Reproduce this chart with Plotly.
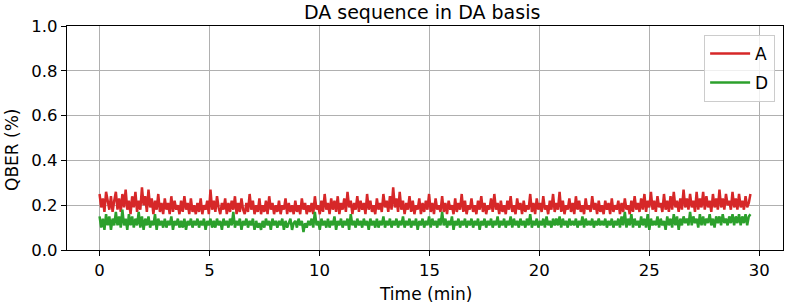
import plotly.graph_objects as go

sample_interval_min = 29.6 / 399

qber_a = [
    0.25,0.19,0.23,0.17,0.26,0.21,0.18,0.24,0.17,0.22,
    0.26,0.18,0.23,0.17,0.25,0.19,0.27,0.18,0.22,0.16,
    0.24,0.19,0.26,0.17,0.22,0.18,0.28,0.20,0.24,0.17,
    0.27,0.19,0.23,0.16,0.22,0.18,0.25,0.17,0.21,0.16,
    0.23,0.18,0.21,0.16,0.24,0.17,0.22,0.18,0.20,0.16,
    0.22,0.17,0.24,0.18,0.21,0.16,0.23,0.17,0.20,0.16,
    0.21,0.17,0.23,0.16,0.20,0.18,0.22,0.16,0.27,0.18,
    0.22,0.17,0.24,0.19,0.16,0.21,0.18,0.23,0.16,0.21,
    0.17,0.22,0.18,0.24,0.16,0.21,0.17,0.23,0.18,0.16,
    0.21,0.17,0.25,0.18,0.22,0.16,0.20,0.17,0.23,0.16,
    0.20,0.17,0.22,0.16,0.24,0.18,0.21,0.16,0.20,0.17,
    0.22,0.16,0.20,0.18,0.23,0.16,0.21,0.17,0.20,0.16,
    0.22,0.17,0.20,0.16,0.23,0.18,0.21,0.16,0.20,0.17,
    0.21,0.16,0.24,0.18,0.20,0.16,0.22,0.17,0.25,0.18,
    0.21,0.16,0.23,0.18,0.22,0.17,0.24,0.16,0.21,0.18,
    0.23,0.17,0.26,0.19,0.22,0.16,0.21,0.18,0.24,0.17,
    0.22,0.18,0.21,0.16,0.25,0.18,0.22,0.17,0.20,0.16,
    0.23,0.18,0.21,0.17,0.25,0.19,0.22,0.17,0.24,0.18,
    0.28,0.19,0.23,0.17,0.26,0.18,0.22,0.16,0.21,0.18,
    0.24,0.17,0.22,0.16,0.20,0.18,0.23,0.16,0.21,0.17,
    0.22,0.18,0.25,0.17,0.21,0.16,0.23,0.18,0.20,0.17,
    0.24,0.17,0.21,0.16,0.22,0.18,0.20,0.16,0.23,0.17,
    0.21,0.18,0.25,0.17,0.22,0.16,0.20,0.18,0.23,0.17,
    0.20,0.16,0.22,0.18,0.24,0.17,0.21,0.16,0.20,0.18,
    0.23,0.17,0.25,0.18,0.21,0.16,0.22,0.17,0.20,0.16,
    0.22,0.18,0.24,0.17,0.20,0.16,0.23,0.18,0.21,0.16,
    0.22,0.17,0.20,0.18,0.25,0.17,0.21,0.16,0.23,0.18,
    0.21,0.17,0.24,0.18,0.20,0.16,0.22,0.18,0.25,0.17,
    0.21,0.18,0.26,0.17,0.22,0.16,0.20,0.18,0.23,0.17,
    0.21,0.16,0.24,0.18,0.22,0.17,0.20,0.16,0.23,0.18,
    0.20,0.17,0.24,0.18,0.21,0.16,0.22,0.17,0.20,0.16,
    0.22,0.18,0.21,0.16,0.23,0.17,0.20,0.18,0.22,0.16,
    0.21,0.17,0.23,0.18,0.20,0.16,0.22,0.17,0.24,0.18,
    0.21,0.17,0.23,0.18,0.25,0.17,0.22,0.19,0.26,0.18,
    0.22,0.17,0.24,0.19,0.21,0.17,0.25,0.18,0.22,0.17,
    0.24,0.18,0.26,0.19,0.22,0.17,0.23,0.18,0.27,0.19,
    0.23,0.18,0.25,0.19,0.22,0.17,0.26,0.18,0.23,0.19,
    0.26,0.18,0.24,0.19,0.22,0.17,0.25,0.19,0.23,0.18,
    0.27,0.19,0.23,0.18,0.25,0.20,0.22,0.18,0.26,0.19,
    0.23,0.18,0.25,0.19,0.22,0.18,0.24,0.19,0.21,0.25,
]

qber_d = [
    0.15,0.10,0.14,0.09,0.16,0.11,0.15,0.09,0.14,0.11,
    0.17,0.11,0.15,0.10,0.18,0.11,0.14,0.09,0.16,0.11,
    0.15,0.10,0.14,0.11,0.17,0.10,0.15,0.09,0.14,0.11,
    0.15,0.10,0.13,0.11,0.16,0.09,0.14,0.11,0.13,0.10,
    0.14,0.10,0.13,0.11,0.15,0.09,0.13,0.11,0.14,0.10,
    0.13,0.10,0.14,0.09,0.13,0.11,0.14,0.10,0.13,0.11,
    0.14,0.10,0.13,0.11,0.14,0.09,0.13,0.11,0.14,0.10,
    0.13,0.10,0.14,0.11,0.13,0.09,0.14,0.11,0.13,0.10,
    0.14,0.11,0.17,0.10,0.13,0.11,0.14,0.09,0.13,0.11,
    0.14,0.10,0.13,0.11,0.14,0.09,0.13,0.10,0.12,0.09,
    0.13,0.10,0.14,0.11,0.13,0.09,0.14,0.11,0.13,0.10,
    0.13,0.11,0.14,0.09,0.13,0.10,0.12,0.14,0.09,0.12,
    0.13,0.10,0.14,0.11,0.13,0.08,0.12,0.10,0.13,0.11,
    0.14,0.10,0.17,0.11,0.13,0.09,0.14,0.11,0.13,0.10,
    0.14,0.10,0.13,0.11,0.15,0.09,0.13,0.11,0.14,0.10,
    0.13,0.11,0.14,0.09,0.16,0.11,0.13,0.10,0.14,0.11,
    0.13,0.10,0.14,0.11,0.13,0.09,0.14,0.11,0.13,0.10,
    0.14,0.10,0.13,0.11,0.15,0.10,0.13,0.11,0.14,0.10,
    0.13,0.11,0.14,0.10,0.13,0.11,0.15,0.10,0.13,0.11,
    0.14,0.10,0.13,0.11,0.14,0.09,0.13,0.11,0.14,0.10,
    0.13,0.11,0.15,0.10,0.14,0.11,0.13,0.10,0.14,0.11,
    0.17,0.11,0.14,0.10,0.13,0.11,0.15,0.09,0.13,0.11,
    0.14,0.10,0.13,0.11,0.14,0.10,0.13,0.11,0.14,0.10,
    0.13,0.11,0.14,0.09,0.13,0.11,0.14,0.10,0.13,0.11,
    0.14,0.10,0.13,0.11,0.15,0.10,0.13,0.11,0.14,0.10,
    0.13,0.11,0.15,0.10,0.14,0.11,0.13,0.10,0.14,0.11,
    0.13,0.10,0.14,0.11,0.16,0.10,0.13,0.11,0.14,0.10,
    0.13,0.11,0.14,0.10,0.15,0.11,0.13,0.10,0.14,0.11,
    0.14,0.11,0.15,0.10,0.14,0.11,0.13,0.10,0.14,0.11,
    0.13,0.11,0.14,0.10,0.13,0.11,0.15,0.10,0.14,0.11,
    0.13,0.11,0.14,0.10,0.13,0.11,0.14,0.11,0.13,0.11,
    0.14,0.10,0.13,0.11,0.14,0.10,0.13,0.11,0.14,0.10,
    0.15,0.11,0.17,0.10,0.14,0.11,0.16,0.10,0.14,0.11,
    0.13,0.10,0.15,0.11,0.14,0.10,0.16,0.09,0.14,0.11,
    0.13,0.11,0.15,0.10,0.14,0.11,0.13,0.09,0.15,0.11,
    0.14,0.10,0.16,0.11,0.15,0.09,0.14,0.11,0.15,0.12,
    0.14,0.11,0.17,0.11,0.15,0.12,0.14,0.10,0.16,0.11,
    0.15,0.11,0.14,0.12,0.16,0.11,0.14,0.10,0.15,0.12,
    0.15,0.11,0.16,0.12,0.14,0.11,0.15,0.12,0.16,0.11,
    0.15,0.12,0.16,0.11,0.15,0.12,0.16,0.11,0.15,0.16,
]

time_min = [i * sample_interval_min for i in range(len(qber_a))]

series_names = ["A", "D"]
series_colors = ["#d62728", "#2ca02c"]

x_ticks = [0, 5, 10, 15, 20, 25, 30]
y_ticks = [0.0, 0.2, 0.4, 0.6, 0.8, 1.0]
y_tick_labels = ["0.0", "0.2", "0.4", "0.6", "0.8", "1.0"]

font_family = "DejaVu Sans, Verdana, sans-serif"

fig = go.Figure()
for name, vals, col in zip(series_names, [qber_a, qber_d], series_colors):
    fig.add_trace(go.Scatter(
        x=time_min, y=vals, mode="lines", name=name,
        line=dict(color=col, width=2.5), legendgroup=name,
    ))

axis_common = dict(
    showline=True, linecolor="black", linewidth=1.2, mirror=True,
    ticks="outside", ticklen=5, tickcolor="black", tickwidth=1.2,
    showgrid=True, gridcolor="#b0b0b0", gridwidth=1.2, zeroline=False,
    automargin=False,
    tickfont=dict(family=font_family, size=16.5, color="black"),
)

fig.update_layout(
    width=789, height=307,
    margin=dict(l=67, r=6, t=26, b=57),
    paper_bgcolor="white", plot_bgcolor="white",
    title=dict(text="DA sequence in DA basis", x=0.535, xanchor="center",
               y=1 - 12 / 307, yanchor="middle",
               font=dict(family=font_family, size=19, color="black")),
    xaxis=dict(range=[-1.48, 31.08], tickvals=x_ticks, **axis_common),
    yaxis=dict(range=[0, 1.0], tickvals=y_ticks, ticktext=y_tick_labels,
               **axis_common),
    legend=dict(x=0.989, y=0.96, xanchor="right", yanchor="top",
                bgcolor="rgba(255,255,255,0.8)", bordercolor="#cccccc",
                borderwidth=1, tracegroupgap=4, itemwidth=40,
                font=dict(family=font_family, size=17, color="black")),
    showlegend=True,
    annotations=[
        dict(text="Time (min)", xref="paper", yref="paper",
             x=(425 - 67) / 716, y=(250 - 294) / 224,
             xanchor="center", yanchor="middle", showarrow=False,
             font=dict(family=font_family, size=17, color="black")),
        dict(text="QBER (%)", xref="paper", yref="paper",
             x=(12 - 67) / 716, y=(250 - 150) / 224, textangle=-90,
             xanchor="center", yanchor="middle", showarrow=False,
             font=dict(family=font_family, size=17, color="black")),
    ],
)

fig.write_html(
    "out.html",
    config={"displayModeBar": False},
    post_script="document.body.style.margin='0';document.body.style.overflow='hidden';",
)
